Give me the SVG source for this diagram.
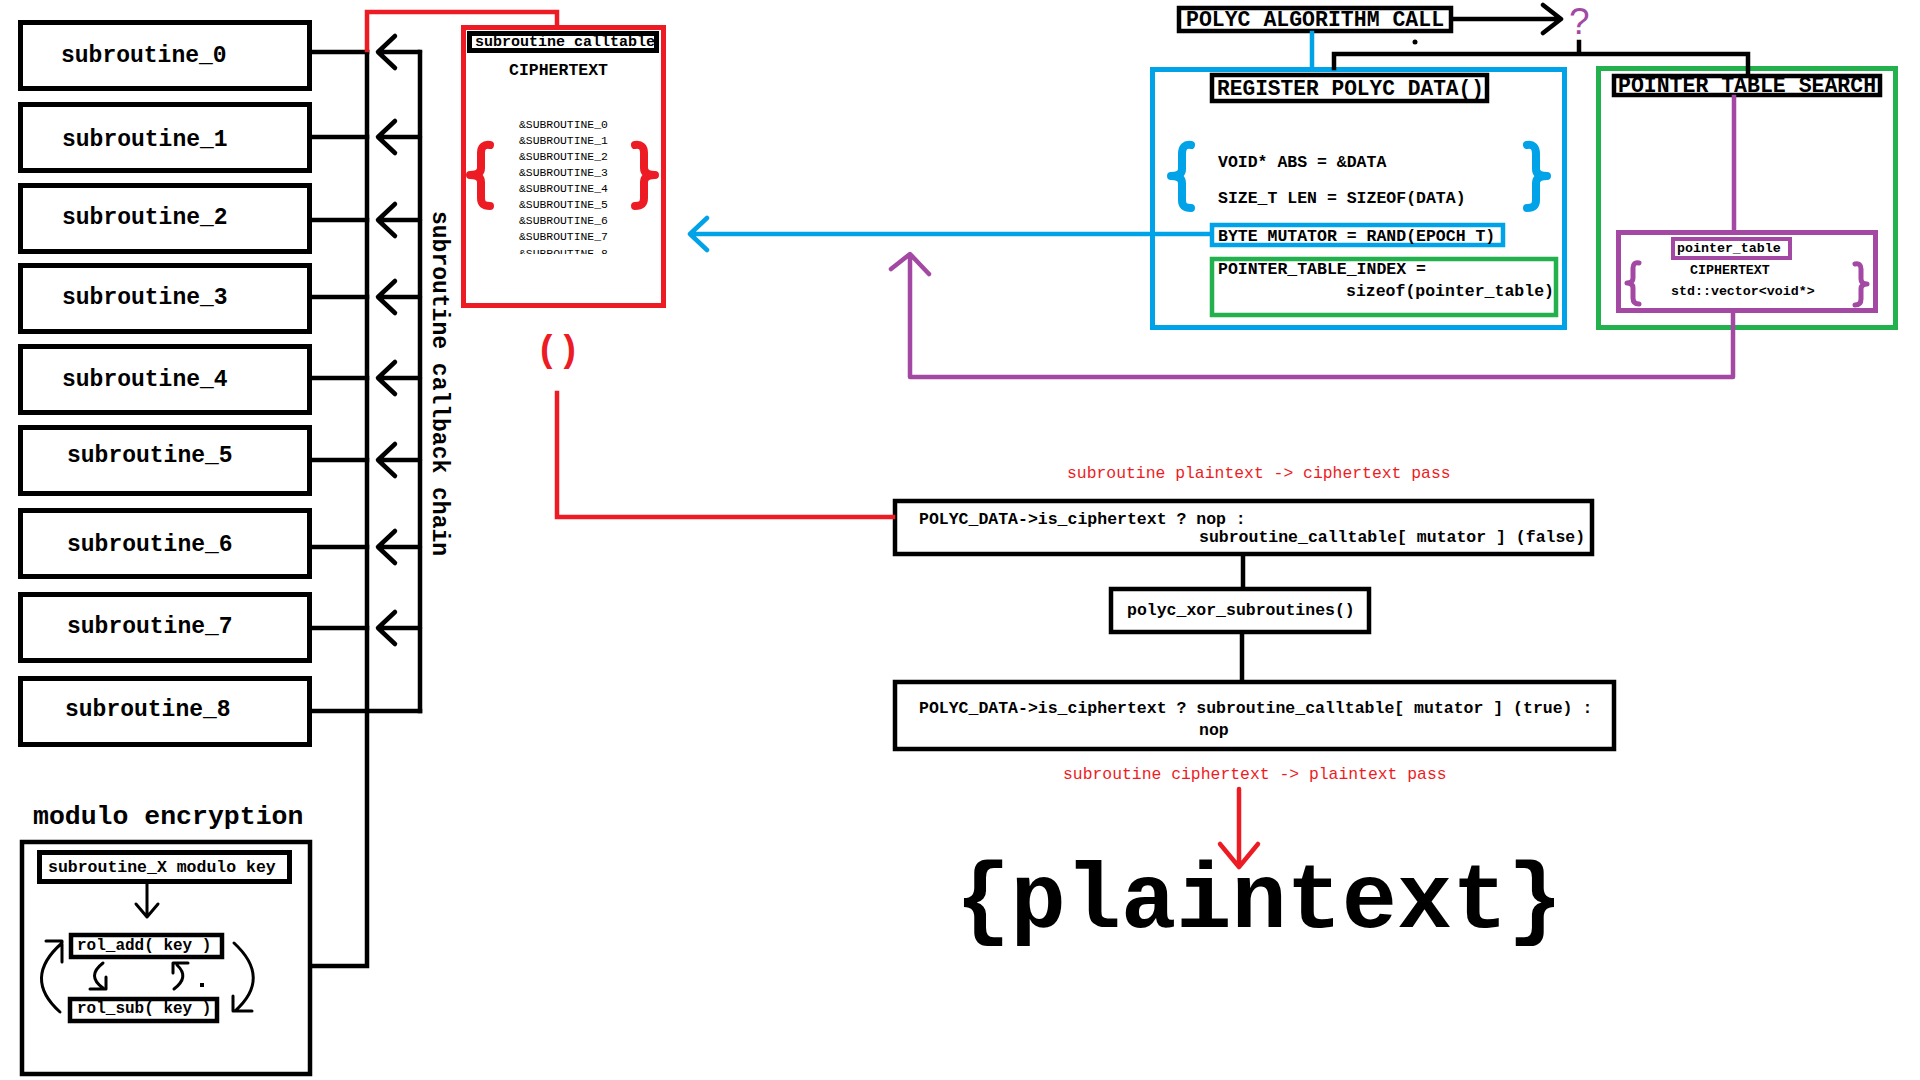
<svg xmlns="http://www.w3.org/2000/svg" width="1920" height="1080" viewBox="0 0 1920 1080">
<defs>
<style>
.bg{fill:#fff}
.box{fill:#fff;stroke:#000;stroke-width:5}
.bx4{fill:#fff;stroke:#000;stroke-width:4.5}
.rbox{fill:#fff;stroke:#ed1c24;stroke-width:5}
.bbox{fill:none;stroke:#00a2e8;stroke-width:5}
.gbox{fill:none;stroke:#22b14c;stroke-width:5}
.pbox{fill:none;stroke:#a349a4;stroke-width:5}
.t{font-family:"Liberation Mono","Courier New",monospace;fill:#000}
.b{font-weight:bold}
.ln{fill:none;stroke:#000;stroke-width:4.5;stroke-linecap:square;stroke-linejoin:miter}
.ah{fill:none;stroke:#000;stroke-width:4.5;stroke-linecap:round;stroke-linejoin:round}
.thin{fill:none;stroke:#000;stroke-width:3;stroke-linecap:round;stroke-linejoin:round}
.red{stroke:#ed1c24}
.blue{stroke:#00a2e8}
.purple{stroke:#a349a4}
.brace{fill:none;stroke-width:8;stroke-linecap:round;stroke-linejoin:round}
.s23{font-size:23px}
.s16{font-size:16.5px}
.s13{font-size:13.3px}
.s21{font-size:21.5px}
</style>
<clipPath id="listclip"><rect x="500" y="90" width="140" height="164"/></clipPath>
</defs>
<rect class="bg" x="0" y="0" width="1920" height="1080"/>

<!-- subroutine nodes -->
<g id="subroutine_0"><rect class="box" x="20.5" y="22.5" width="289" height="66"/><text class="t b s23" x="61" y="62">subroutine_0</text></g>
<g id="subroutine_1"><rect class="box" x="20.5" y="104.5" width="289" height="66"/><text class="t b s23" x="62" y="146">subroutine_1</text></g>
<g id="subroutine_2"><rect class="box" x="20.5" y="185.5" width="289" height="66"/><text class="t b s23" x="62" y="224">subroutine_2</text></g>
<g id="subroutine_3"><rect class="box" x="20.5" y="265.5" width="289" height="66"/><text class="t b s23" x="62" y="304">subroutine_3</text></g>
<g id="subroutine_4"><rect class="box" x="20.5" y="346.5" width="289" height="66"/><text class="t b s23" x="62" y="386">subroutine_4</text></g>
<g id="subroutine_5"><rect class="box" x="20.5" y="427.5" width="289" height="66"/><text class="t b s23" x="67" y="462">subroutine_5</text></g>
<g id="subroutine_6"><rect class="box" x="20.5" y="510.5" width="289" height="66"/><text class="t b s23" x="67" y="551">subroutine_6</text></g>
<g id="subroutine_7"><rect class="box" x="20.5" y="594.5" width="289" height="66"/><text class="t b s23" x="67" y="633">subroutine_7</text></g>
<g id="subroutine_8"><rect class="box" x="20.5" y="678.5" width="289" height="66"/><text class="t b s23" x="65" y="716">subroutine_8</text></g>

<g id="callback_chain_label"><text class="t b s23" transform="translate(433,211) rotate(90)">subroutine callback chain</text></g>

<!-- modulo encryption -->
<g id="modulo_encryption">
<text class="t b" style="font-size:26.5px" x="33" y="824">modulo encryption</text>
<rect class="bx4" x="22" y="842" width="288" height="232"/>
<g id="modulo_key"><rect class="box" x="39.5" y="852.5" width="250" height="29"/><text class="t b s16" x="48" y="872">subroutine_X modulo key</text></g>
<g id="rol_add"><rect class="bx4" x="71" y="935" width="151" height="22"/><text class="t b" style="font-size:16px" x="77" y="950">rol_add( key )</text></g>
<g id="rol_sub"><rect class="bx4" x="70" y="999" width="147" height="22"/><text class="t b" style="font-size:16px" x="77" y="1013">rol_sub( key )</text></g>
<path class="thin" d="M147,884 V917 M136,904 L147,917 L158,904"/>
<path class="thin" d="M60,1012 Q22,978 62,943 M46,941 H62 V962"/>
<path class="thin" d="M234,943 Q272,978 235,1011 M233,996 V1011 H252"/>
<path class="thin" d="M103,963 Q86,976 103,988 M90,989 H106 V977"/>
<path class="thin" d="M174,989 Q190,977 177,965 M188,963 H173 V973"/>
<rect x="200" y="983" width="4" height="4" fill="#000"/>
</g>

<!-- subroutine calltable -->
<g id="subroutine_calltable">
<rect class="rbox" x="463.5" y="27.5" width="200" height="278"/>
<rect class="box" x="469.5" y="33.5" width="187" height="17"/>
<text class="t b" style="font-size:15px" x="475" y="46">subroutine calltable</text>
<text class="t b s16" x="509" y="75">CIPHERTEXT</text>
<g clip-path="url(#listclip)" class="t" style="font-size:11.4px">
<text x="519" y="128">&amp;SUBROUTINE_0</text>
<text x="519" y="144">&amp;SUBROUTINE_1</text>
<text x="519" y="160">&amp;SUBROUTINE_2</text>
<text x="519" y="176">&amp;SUBROUTINE_3</text>
<text x="519" y="192">&amp;SUBROUTINE_4</text>
<text x="519" y="208">&amp;SUBROUTINE_5</text>
<text x="519" y="224">&amp;SUBROUTINE_6</text>
<text x="519" y="240">&amp;SUBROUTINE_7</text>
<text x="519" y="257">&amp;SUBROUTINE_8</text>
</g>
<path class="brace red" d="M490,145 C484,144 481,147 481,153 V168 Q481,175 470,175 Q481,175 481,182 V198 C481,204 484,206 490,206"/>
<path class="brace red" d="M635,145 C641,144 644,147 644,153 V168 Q644,175 655,175 Q644,175 644,182 V198 C644,204 641,206 635,206"/>
</g>

<g id="call_parens"><text class="t b" style="font-size:37px;fill:#ed1c24" x="558" y="361" text-anchor="middle">()</text></g>

<!-- POLYC ALGORITHM CALL -->
<g id="polyc_algorithm_call"><rect class="bx4" x="1179" y="8" width="272" height="23"/><text class="t b s21" x="1186" y="26">POLYC ALGORITHM CALL</text></g>
<g id="unknown_target"><text x="1569" y="34" style="font-family:'Liberation Sans',Arial,sans-serif;font-size:37px;fill:#a349a4">?</text></g>

<!-- REGISTER POLYC DATA -->
<g id="register_polyc_data">
<rect class="bbox" x="1152.5" y="69.5" width="412" height="258"/>
<rect class="bx4" x="1212" y="75" width="275" height="26"/>
<text class="t b" style="font-size:21.2px" x="1217" y="95">REGISTER POLYC DATA()</text>
<path class="brace blue" d="M1191,145 C1185,144 1182,147 1182,154 V169 Q1182,176 1171,176 Q1182,176 1182,183 V200 C1182,206 1185,208 1191,208"/>
<path class="brace blue" d="M1527,145 C1533,144 1536,147 1536,154 V169 Q1536,176 1547,176 Q1536,176 1536,183 V200 C1536,206 1533,208 1527,208"/>
<text class="t b s16" x="1218" y="167">VOID* ABS = &amp;DATA</text>
<text class="t b s16" x="1218" y="203">SIZE_T LEN = SIZEOF(DATA)</text>
<g id="byte_mutator"><rect fill="#fff" stroke="#00a2e8" stroke-width="4.5" x="1212" y="225" width="291" height="20"/><text class="t b s16" x="1218" y="241">BYTE MUTATOR = RAND(EPOCH T)</text></g>
<g id="pointer_table_index"><rect fill="#fff" stroke="#22b14c" stroke-width="4.5" x="1212" y="259" width="344" height="56"/>
<text class="t b s16" x="1218" y="274">POINTER_TABLE_INDEX =</text>
<text class="t b s16" x="1346" y="296">sizeof(pointer_table)</text></g>
</g>

<!-- POINTER TABLE SEARCH -->
<g id="pointer_table_search">
<rect class="gbox" x="1598.5" y="68.5" width="297" height="259"/>
<rect class="bx4" x="1614" y="76" width="266" height="19"/>
<text class="t b s21" x="1618" y="92">POINTER TABLE SEARCH</text>
</g>
<g id="pointer_table">
<rect fill="#fff" stroke="#a349a4" stroke-width="5" x="1618.5" y="232.5" width="257" height="78"/>
<rect fill="#fff" stroke="#a349a4" stroke-width="4" x="1673" y="239" width="117" height="19"/>
<text class="t b s13" x="1677" y="252">pointer_table</text>
<text class="t b s13" x="1690" y="274">CIPHERTEXT</text>
<text class="t b s13" x="1671" y="295">std::vector&lt;void*&gt;</text>
<path class="brace purple" style="stroke-width:5" d="M1639,263 C1635,262 1633,264 1633,268 V278 Q1633,283 1627,283 Q1633,283 1633,288 V298 C1633,302 1635,304 1639,304"/>
<path class="brace purple" style="stroke-width:5" d="M1855,264 C1859,263 1861,265 1861,269 V279 Q1861,284 1867,284 Q1861,284 1861,289 V299 C1861,303 1859,305 1855,305"/>
</g>

<!-- flow -->
<g id="plaintext_to_ciphertext_label"><text class="t" style="font-size:16.4px;fill:#ed1c24" x="1067" y="478">subroutine plaintext -&gt; ciphertext pass</text></g>
<g id="encrypt_pass"><rect class="bx4" x="895" y="501" width="697" height="53"/>
<text class="t b s16" x="919" y="524">POLYC_DATA-&gt;is_ciphertext ? nop :</text>
<text class="t b s16" x="1199" y="542">subroutine_calltable[ mutator ] (false)</text></g>
<g id="polyc_xor_subroutines"><rect class="bx4" x="1111" y="589" width="258" height="43"/>
<text class="t b s16" x="1127" y="615">polyc_xor_subroutines()</text></g>
<g id="decrypt_pass"><rect class="bx4" x="895" y="682" width="719" height="67"/>
<text class="t b s16" x="919" y="713">POLYC_DATA-&gt;is_ciphertext ? subroutine_calltable[ mutator ] (true) :</text>
<text class="t b s16" x="1199" y="735">nop</text></g>
<g id="ciphertext_to_plaintext_label"><text class="t" style="font-size:16.4px;fill:#ed1c24" x="1063" y="779">subroutine ciphertext -&gt; plaintext pass</text></g>
<g id="plaintext"><text class="t b" style="font-size:92px" x="1259" y="927" text-anchor="middle">{plaintext}</text></g>

<!-- connectors -->
<g id="connectors">
<path class="ln" d="M312,52 H367 M312,137 H367 M312,220 H367 M312,297 H367 M312,378 H367 M312,460 H367 M312,547 H367 M312,628 H367 M312,711 H420"/>
<path class="ln" d="M367,52 V966 H313"/>
<path class="ln" d="M420,52 V711"/>
<path class="ah" d="M420,52 H379 M395,36 L378,52 L395,68"/>
<path class="ah" d="M420,137 H379 M395,121 L378,137 L395,153"/>
<path class="ah" d="M420,220 H379 M395,204 L378,220 L395,236"/>
<path class="ah" d="M420,297 H379 M395,281 L378,297 L395,313"/>
<path class="ah" d="M420,378 H379 M395,362 L378,378 L395,394"/>
<path class="ah" d="M420,460 H379 M395,444 L378,460 L395,476"/>
<path class="ah" d="M420,547 H379 M395,531 L378,547 L395,563"/>
<path class="ah" d="M420,628 H379 M395,612 L378,628 L395,644"/>
<path class="ln red" d="M367,50 V12 H557 V26"/>
<path class="ln red" d="M557,393 V517 H893"/>
<path class="ln blue" d="M1312,33 V67"/>
<path class="ln" d="M1334,68 V54 H1748 V74 M1579,42 V54"/>
<circle cx="1415" cy="42" r="2.5" fill="#000"/>
<path class="ah" d="M1453,19 H1560 M1543,5 L1561,19 L1543,33"/>
<path class="ah blue" d="M1210,234 H691 M707,218 L690,234 L707,250"/>
<path class="ln purple" d="M1734,97 V230"/>
<path class="ah purple" d="M1733,313 V377 H910 V255 M891,269 L910,254 L929,274"/>
<path class="ln" d="M1243,556 V587 M1242,634 V680"/>
<path class="ah red" d="M1239,789 V866 M1220,844 L1239,867 L1258,844"/>
</g>
</svg>
